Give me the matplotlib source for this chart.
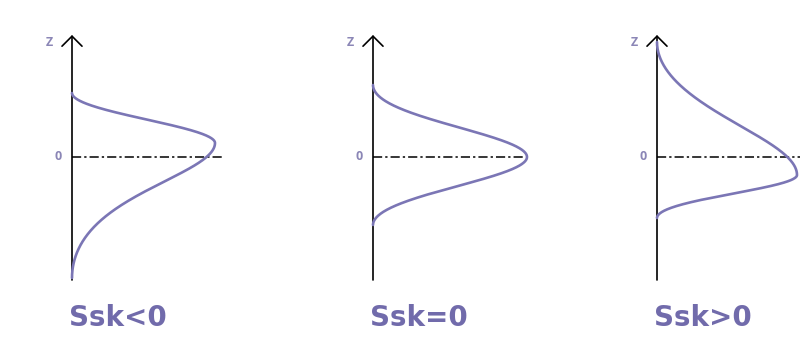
import numpy as np
import matplotlib
matplotlib.use('Agg')
import matplotlib.pyplot as plt

# panel labels (surface skewness)
skew_labels = ['Ssk<0', 'Ssk=0', 'Ssk>0']

# curve shape, z in pixels above the zero line
peak_z = [14, 0, -18]          # height of the peak
peak_width = [143, 154, 140]   # how far the peak reaches right of the axis
top_z = [64, 72, 115]          # where the upper tail meets the axis
bottom_z = [-121, -68, -61]    # where the lower tail meets the axis
top_scale = [26, 30, 78]
bottom_scale = [60, 30, 19]
top_nu = [None, None, 2]       # None -> gaussian tail, number -> heavy tail
bottom_nu = [2, None, None]

axis_x = [72, 373, 657]
dash_len = [150, 150, 150]

CURVE = '#7b76b5'
TEXT = '#716bab'
LABEL = '#8b86b6'


def half_shape(d, L, s, nu):
    if nu is None:
        f = lambda u: np.exp(-0.5 * (u / s) ** 2)
    else:
        f = lambda u: (1 + (u / s) ** 2 / nu) ** (-nu)
    h = 1e-4 * L
    slope = (f(L) - f(L - h)) / h
    # bend the tail so it runs into the axis smoothly, peak stays flat
    g = lambda u: f(u) - f(L) - slope * (u - L) * (u / L) ** 2
    return np.clip(g(d) / g(0.0), 0, None)


fig = plt.figure(figsize=(8, 3.49), dpi=100)
ax = fig.add_axes([0, 0, 1, 1])
ax.set_xlim(0, 800)
ax.set_ylim(157 - 349, 157)
ax.axis('off')

for i in range(3):
    x0 = axis_x[i]

    # z axis with open arrow head
    ax.annotate('', xy=(x0, 122), xytext=(x0, -123),
                arrowprops=dict(arrowstyle='->,head_length=0.3,head_width=0.3',
                                lw=1.2, color='k', mutation_scale=24,
                                shrinkA=0, shrinkB=0))
    ax.text(x0 - 23, 114, 'Z', color=LABEL, fontsize=9, ha='center', va='center',
            family='Open Sans', fontweight='bold')
    ax.text(x0 - 14, 0, '0', color=LABEL, fontsize=9, ha='center', va='center',
            family='Open Sans', fontweight='bold')

    # zero line
    ax.plot([x0, x0 + dash_len[i]], [0, 0], color='k', lw=1.1,
            linestyle=(0, (6, 2, 1.5, 2)), zorder=2)

    # distribution curve
    zu = np.linspace(peak_z[i], top_z[i], 200)
    xu = peak_width[i] * half_shape(zu - peak_z[i], top_z[i] - peak_z[i],
                                    top_scale[i], top_nu[i])
    zl = np.linspace(peak_z[i], bottom_z[i], 300)
    xl = peak_width[i] * half_shape(peak_z[i] - zl, peak_z[i] - bottom_z[i],
                                    bottom_scale[i], bottom_nu[i])
    zz = np.concatenate([zu[::-1], zl[1:]])
    xx = np.concatenate([xu[::-1], xl[1:]])
    ax.plot(x0 + xx, zz, color=CURVE, lw=1.9, zorder=3, solid_capstyle='round')

    ax.text(x0 - 3, -161, skew_labels[i], color=TEXT, fontsize=20,
            family='DejaVu Sans', fontweight='bold', ha='left', va='center')

fig.savefig('out.png', dpi=100, facecolor='white')
